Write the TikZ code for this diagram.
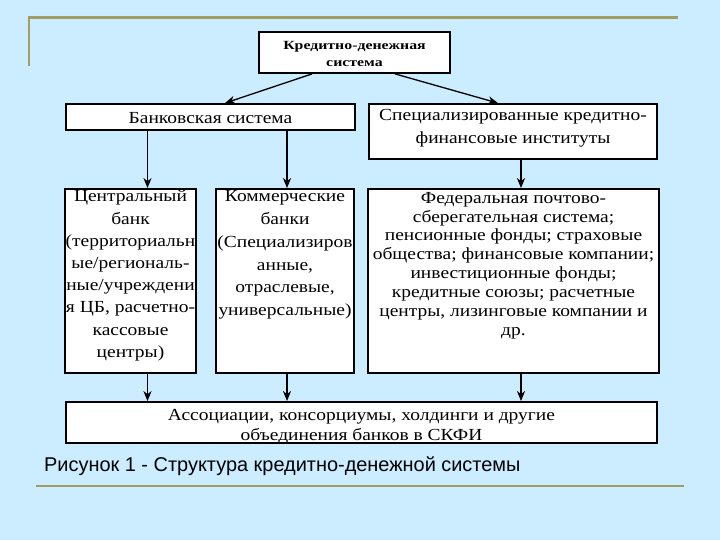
\documentclass[tikz,border=0pt]{standalone}
\usepackage{fontspec}
\setmainfont{Liberation Serif}
\newfontfamily\boxfont[FakeStretch=1.15]{Liberation Serif}
\newfontfamily\titlefont[FakeStretch=1.27]{Liberation Serif}
\newfontfamily\capfont{Liberation Sans}
\usetikzlibrary{arrows.meta}
\definecolor{bgblue}{RGB}{204,236,255}
\definecolor{olive}{RGB}{160,158,96}
\tikzset{
  box/.style={draw=black, line width=1.8bp, fill=white, inner sep=0pt, rectangle},
  btext/.style={inner sep=0pt, align=center, font=\boxfont\fontsize{17}{#1}\selectfont},
  conn/.style={line width=1.3bp, -{Stealth[length=10bp,width=8bp,inset=3bp]}},
  rule/.style={draw=olive, line width=2.2bp}
}
\begin{document}
\begin{tikzpicture}[x=1bp,y=-1bp]
\useasboundingbox (0,0) rectangle (720,540);
\fill[bgblue] (0,0) rectangle (720,540);
% decorative rules
\draw[rule] (29,66) -- (29,17.5) -- (678,17.5);
\draw[rule] (36,486) -- (684,486);
% boxes
\node[box, minimum width=191bp, minimum height=41bp] (top) at (354.5,52.5) {};
\node[box, minimum width=289bp, minimum height=26bp] (bank) at (210.5,117) {};
\node[box, minimum width=288bp, minimum height=55bp] (spec) at (513,131.5) {};
\node[box, minimum width=131bp, minimum height=184bp] (cb) at (130.5,281) {};
\node[box, minimum width=138bp, minimum height=184bp] (com) at (285,281) {};
\node[box, minimum width=291bp, minimum height=184bp] (fed) at (513.5,281) {};
\node[box, minimum width=591bp, minimum height=41bp] (assoc) at (361.5,422.5) {};
% texts
\node[inner sep=0pt, align=center, font=\titlefont\bfseries\fontsize{12.5}{18}\selectfont] (topt) at (354.5,54) {Кредитно-денежная\\система};
\node[btext=20] (bankt) at (210.5,118) {Банковская система};
\node[btext=23] (spect) at (513,128.5) {Специализированные кредитно-\\финансовые институты};
\node[btext=22.3, anchor=north] (cbt) at (130.5,190) {Центральный\\банк\\(территориальн\\ые/региональ-\\ные/учреждени\\я ЦБ, расчетно-\\кассовые\\центры)};
\node[btext=23, anchor=north] (comt) at (285,190) {Коммерческие\\банки\\(Специализиров\\анные,\\отраслевые,\\универсальные)};
\node[btext=18.9, anchor=north] (fedt) at (513.5,192) {Федеральная почтово-\\сберегательная система;\\пенсионные фонды; страховые\\общества; финансовые компании;\\инвестиционные фонды;\\кредитные союзы; расчетные\\центры, лизинговые компании и\\др.};
\node[btext=20] (assoct) at (361.5,427) {Ассоциации, консорциумы, холдинги и другие\\объединения банков в СКФИ};
% caption
\node[anchor=base west, inner sep=0pt, font=\capfont\fontsize{20}{24}\selectfont] (cap) at (44,471.5) {Рисунок 1 - Структура кредитно-денежной системы};
% connectors
\draw[conn] (top.south -| 312,0) -- (bank.north -| 225,0);
\draw[conn] (top.south -| 395,0) -- (spec.north -| 498,0);
\draw[conn] (bank.south -| 147.5,0) -- (cb.north -| 147.5,0);
\draw[conn] (bank.south -| 287,0) -- (com.north -| 287,0);
\draw[conn] (spec.south -| 521,0) -- (fed.north -| 521,0);
\draw[conn] (cb.south -| 147.5,0) -- (assoc.north -| 147.5,0);
\draw[conn] (com.south -| 287,0) -- (assoc.north -| 287,0);
\draw[conn] (fed.south -| 521,0) -- (assoc.north -| 521,0);
\end{tikzpicture}
\end{document}
